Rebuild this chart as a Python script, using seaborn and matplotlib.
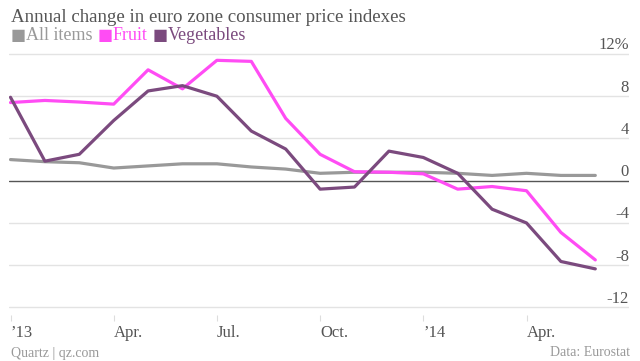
import numpy as np
import pandas as pd
import matplotlib
matplotlib.use("Agg")
import matplotlib.pyplot as plt
import seaborn as sns

# ---- data ----
months = list(range(18))  # Jan 2013 .. Jun 2014
all_items = [2.0, 1.8, 1.7, 1.2, 1.4, 1.6, 1.6, 1.3, 1.1, 0.7, 0.8, 0.8, 0.8, 0.7, 0.5, 0.7, 0.5, 0.5]
fruit = [7.4, 7.6, 7.45, 7.25, 10.5, 8.7, 11.4, 11.3, 5.9, 2.5, 0.85, 0.8, 0.65, -0.8, -0.55, -0.95, -4.9, -7.5]
vegetables = [7.9, 1.85, 2.5, 5.7, 8.5, 9.0, 8.0, 4.7, 3.0, -0.8, -0.6, 2.8, 2.2, 0.7, -2.7, -4.0, -7.65, -8.35]
series_names = ["All items", "Fruit", "Vegetables"]
colors = ["#999999", "#ff4cf4", "#7b4a7e"]
y_ticks = [12, 8, 4, 0, -4, -8, -12]
y_labels = ["12%", "8", "4", "0", "-4", "-8", "-12"]
x_tick_months = [0, 3, 6, 9, 12, 15]
x_tick_labels = ["\u201913", "Apr.", "Jul.", "Oct.", "\u201914", "Apr."]

df = pd.DataFrame({
    "month": months * 3,
    "value": all_items + fruit + vegetables,
    "series": sum([[n] * len(months) for n in series_names], []),
})

sns.set_theme(style="white")
plt.rcParams["font.family"] = ["Liberation Serif", "DejaVu Serif"]

W, H = 640, 361
fig = plt.figure(figsize=(W / 100, H / 100), dpi=100)

# axes in pixel coordinates
ax_left, ax_right, ax_top, ax_bottom = 9, 629, 45, 315
ax = fig.add_axes([ax_left / W, (H - ax_bottom) / H, (ax_right - ax_left) / W, (ax_bottom - ax_top) / H])

# scale: month spacing 34.4 px, first point at x=10.5; zero at y=180.7, 10.56 px/unit
x0_px = 10.5
px_per_x = 34.4
y0_px = 180.7
px_per_y = 10.56
ax.set_xlim(-(x0_px - ax_left) / px_per_x, (ax_right - x0_px) / px_per_x)
ax.set_ylim((y0_px - ax_bottom) / px_per_y, (y0_px - ax_top) / px_per_y)

# gridlines
for v in y_ticks:
    if v == 0:
        ax.axhline(v, color="#555555", lw=1.0, zorder=1)
    else:
        ax.axhline(v, color="#e3e3e3", lw=1.0, zorder=0)

sns.lineplot(data=df, x="month", y="value", hue="series", hue_order=series_names,
             palette=colors, linewidth=2.3, legend=False, ax=ax, zorder=3)

for s in ax.spines.values():
    s.set_visible(False)
ax.set_xlabel("")
ax.set_ylabel("")
ax.set_yticks([])

# x ticks (left-aligned labels)
ax.set_xticks(x_tick_months)
ax.set_xticklabels(x_tick_labels, ha="left", fontsize=12, color="#555555")
ax.tick_params(axis="x", bottom=True, length=4.6, width=0.8, color="#dddddd", pad=2.5, direction="out")

# right y labels above gridlines
for v, lab in zip(y_ticks, y_labels):
    ax.text(1.0, v + 0.05, lab, transform=ax.get_yaxis_transform(), ha="right", va="bottom",
            fontsize=12, color="#555555")

# title
fig.text(11 / W, 1 - 17 / H, "Annual change in euro zone consumer price indexes", ha="left", va="center",
         fontsize=13.6, color="#555555")

# legend
fig.canvas.draw()
renderer = fig.canvas.get_renderer()
xpos = 11
ypos = 1 - 36 / H
for name, col in zip(series_names, colors):
    t1 = fig.text(xpos / W, ypos, "\u25a0", ha="left", va="center", fontsize=11.5, color=col,
                  family=["DejaVu Sans"])
    bb = t1.get_window_extent(renderer)
    xpos += bb.width
    t2 = fig.text(xpos / W, ypos, name, ha="left", va="center", fontsize=13, color=col)
    bb = t2.get_window_extent(renderer)
    xpos += bb.width + 5

# footer
fig.text(11 / W, 1 - 353 / H, "Quartz | qz.com", ha="left", va="center", fontsize=10, color="#999999")
fig.text(630 / W, 1 - 353 / H, "Data: Eurostat", ha="right", va="center", fontsize=10, color="#999999")

fig.savefig("out.png", dpi=100, facecolor="white")
